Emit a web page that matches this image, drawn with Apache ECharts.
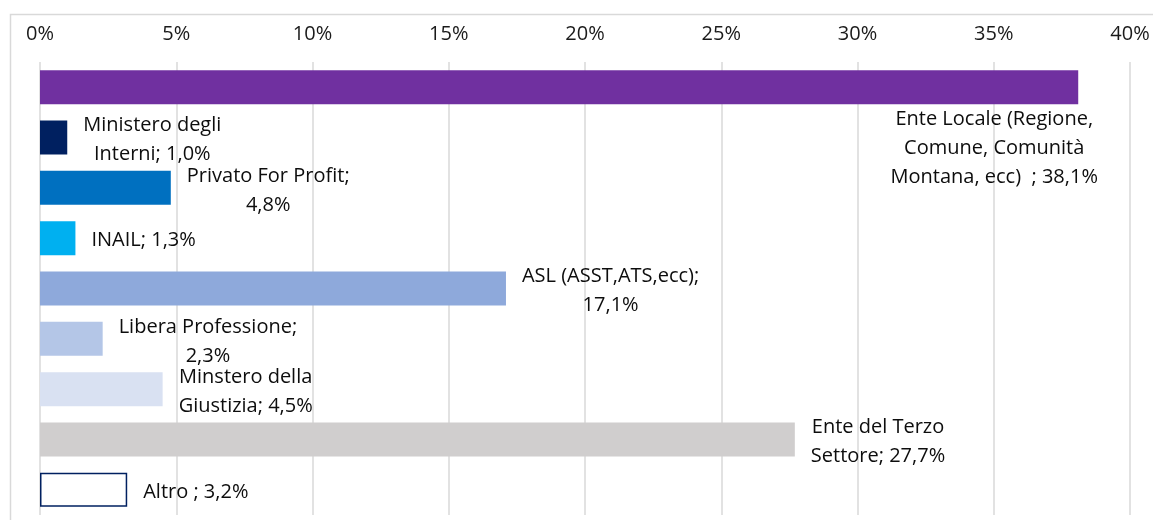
<!DOCTYPE html>
<html>
<head>
<meta charset="utf-8">
<script src="https://cdn.jsdelivr.net/npm/echarts@6/dist/echarts.min.js"></script>
<style>
  html, body { margin: 0; padding: 0; background: #fff; }
  #chart { width: 1153px; height: 520px; }
</style>
</head>
<body>
<div id="chart"></div>
<script>
// Categories, top to bottom (line breaks as they wrap in the labels)
const categories = [
  'Ente Locale (Regione,\nComune, Comunità\nMontana, ecc)  ',
  'Ministero degli\nInterni',
  'Privato For Profit',
  'INAIL',
  'ASL (ASST,ATS,ecc)',
  'Libera Professione',
  'Minstero della\nGiustizia',
  'Ente del Terzo\nSettore',
  'Altro '
];
// Share of respondents, percent
const values = [38.1, 1.0, 4.8, 1.3, 17.1, 2.3, 4.5, 27.7, 3.2];
// Separator between name and value in each label
const separators = ['; ', '; ', ';\n', '; ', ';\n', ';\n', '; ', '; ', '; '];
const colors = ['#7030A0', '#002060', '#0070C0', '#00B0F0', '#8EA9DB', '#B4C6E7', '#D9E1F2', '#D0CECE', '#FFFFFF'];
// X axis ticks
const xTicks = [0, 5, 10, 15, 20, 25, 30, 35, 40];

const FONT = 'Open Sans';
const FS = 20;
const LH = 29;

const fmt = v => v.toFixed(1).replace('.', ',') + '%';
const labelText = i => categories[i] + separators[i] + fmt(values[i]);

const ctx = document.createElement('canvas').getContext('2d');
ctx.font = FS + 'px "' + FONT + '"';
const blockWidth = s => Math.max(...s.split('\n').map(l => ctx.measureText(l).width));

const data = values.map((v, i) => {
  const item = {
    value: v,
    itemStyle: { color: colors[i] },
    label: {}
  };
  if (i === 0) {
    // the long label sits under its bar, right-aligned near the bar end
    item.label = {
      position: ['100%', '100%'],
      align: 'center',
      verticalAlign: 'top',
      offset: [-84, 1]
    };
  } else {
    item.label = {
      position: 'right',
      distance: 16,
      align: 'center',
      verticalAlign: 'middle',
      offset: [blockWidth(labelText(i)) / 2, 2.5]
    };
  }
  if (i === values.length - 1) {
    item.itemStyle = { color: '#FFFFFF', borderColor: '#002060', borderWidth: 1.5 };
  }
  return item;
});

const chart = echarts.init(document.getElementById('chart'), null, { renderer: 'canvas' });
chart.setOption({
  animation: false,
  backgroundColor: '#fff',
  textStyle: { fontFamily: FONT },
  graphic: [{
    type: 'rect',
    shape: { x: 10.5, y: 14.5, width: 1160, height: 520 },
    style: { fill: 'none', stroke: '#D9D9D9', lineWidth: 1.5 },
    silent: true,
    z: -1
  }],
  grid: { left: 40, right: 23, top: 62, bottom: 5, containLabel: false },
  xAxis: {
    type: 'value',
    position: 'top',
    min: xTicks[0],
    max: xTicks[xTicks.length - 1],
    interval: xTicks[1] - xTicks[0],
    axisLine: { show: false },
    axisTick: { show: false },
    axisLabel: {
      formatter: '{value}%',
      color: '#1A1A1A',
      fontFamily: FONT,
      fontSize: FS,
      margin: 18
    },
    splitLine: { lineStyle: { color: '#D9D9D9', width: 1.5 } }
  },
  yAxis: {
    type: 'category',
    inverse: true,
    data: categories,
    axisLine: { show: false },
    axisTick: { show: false },
    axisLabel: { show: false },
    splitLine: { show: false }
  },
  series: [{
    type: 'bar',
    data: data,
    barWidth: 34,
    label: {
      show: true,
      color: '#0D0D0D',
      fontFamily: FONT,
      fontSize: FS,
      lineHeight: LH,
      formatter: p => labelText(p.dataIndex)
    }
  }]
});
</script>
</body>
</html>
